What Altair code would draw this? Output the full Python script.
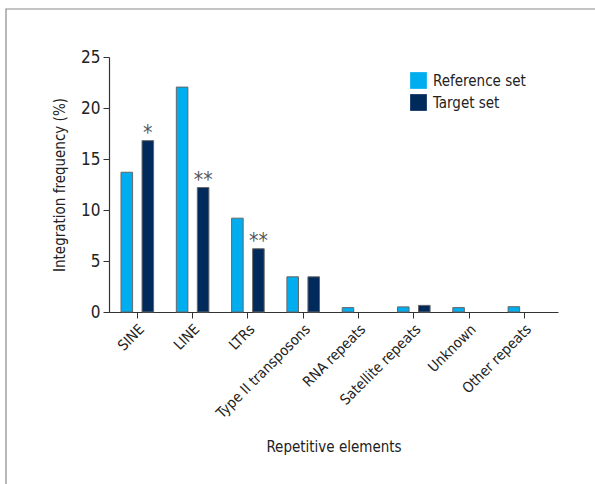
import altair as alt
import pandas as pd

categories = ["SINE", "LINE", "LTRs", "Type II transposons", "RNA repeats",
              "Satellite repeats", "Unknown", "Other repeats"]
series = ["Reference set", "Target set"]
reference_values = [13.7, 22.05, 9.2, 3.45, 0.43, 0.5, 0.43, 0.52]
target_values = [16.8, 12.2, 6.2, 3.45, 0.0, 0.65, 0.0, 0.0]
colors = ["#00AEEF", "#002A5C"]
annot_categories = ["SINE", "LINE", "LTRs"]
annot_labels = ["*", "**", "**"]

FONT = "Liberation Sans Narrow, DejaVu Sans Condensed, sans-serif"

rows = []
for c, r, t in zip(categories, reference_values, target_values):
    rows.append({"category": c, "series": series[0], "value": r})
    rows.append({"category": c, "series": series[1], "value": t})
df = pd.DataFrame(rows)

tv = dict(zip(categories, target_values))
adf = pd.DataFrame({
    "category": annot_categories,
    "series": [series[1]] * len(annot_categories),
    "value": [tv[c] for c in annot_categories],
    "label": annot_labels,
})

x_enc = alt.X("category:N", sort=categories,
              scale=alt.Scale(domain=categories, paddingInner=0, paddingOuter=0.06, align=0.1),
              axis=alt.Axis(title="Repetitive elements", labelAngle=-45,
                            labelFontSize=14.5, titleFontSize=15, titlePadding=19,
                            titleFontWeight="normal", labelColor="#222",
                            titleColor="#222", tickSize=6, labelPadding=4))
xo_enc = alt.XOffset("series:N", sort=series,
                     scale=alt.Scale(domain=series, paddingInner=0.45, paddingOuter=0.54))
y_enc = alt.Y("value:Q", scale=alt.Scale(domain=[0, 25], nice=False),
              axis=alt.Axis(title="Integration frequency (%)", values=[0, 5, 10, 15, 20, 25],
                            labelFontSize=17, titleFontSize=15, titlePadding=13,
                            titleFontWeight="normal", grid=False, tickSize=6,
                            labelColor="#222", titleColor="#222", labelPadding=3))

bars = alt.Chart(df).transform_filter("datum.value > 0").mark_bar(
    stroke="#666666", strokeWidth=1).encode(
    x=x_enc,
    xOffset=xo_enc,
    y=y_enc,
    color=alt.Color("series:N", sort=series,
                    scale=alt.Scale(domain=series, range=colors),
                    legend=alt.Legend(title=None, orient="none", legendX=301, legendY=15,
                                      symbolType="square", symbolSize=280,
                                      symbolStrokeWidth=0, labelFontSize=15,
                                      labelColor="#222", rowPadding=5, labelOffset=6)),
)

stars = alt.Chart(adf).mark_text(fontSize=21, color="#555555", baseline="alphabetic",
                                 dy=-1, font=FONT).encode(
    x=alt.X("category:N", sort=categories),
    xOffset=alt.XOffset("series:N", sort=series),
    y=alt.Y("value:Q"),
    text="label:N",
)

frame = alt.Chart(pd.DataFrame({"k": [0]})).mark_rect(
    fillOpacity=0, stroke="#8a8a8a", strokeWidth=1.2).encode(
    x=alt.value(-103), y=alt.value(-48), x2=alt.value(600), y2=alt.value(500))

chart = alt.layer(frame, bars, stars).properties(
    width=449, height=255,
    padding={"left": 109, "top": 57, "right": 37, "bottom": 172},
    autosize=alt.AutoSizeParams(type="none"),
).configure_view(stroke=None).configure_axis(
    domainColor="#333333", tickColor="#333333", labelFont=FONT, titleFont=FONT,
    domainWidth=1.2,
).configure_legend(labelFont=FONT).configure_text(font=FONT)

chart.save("out.html", embed_options={"renderer": "svg", "actions": False})
